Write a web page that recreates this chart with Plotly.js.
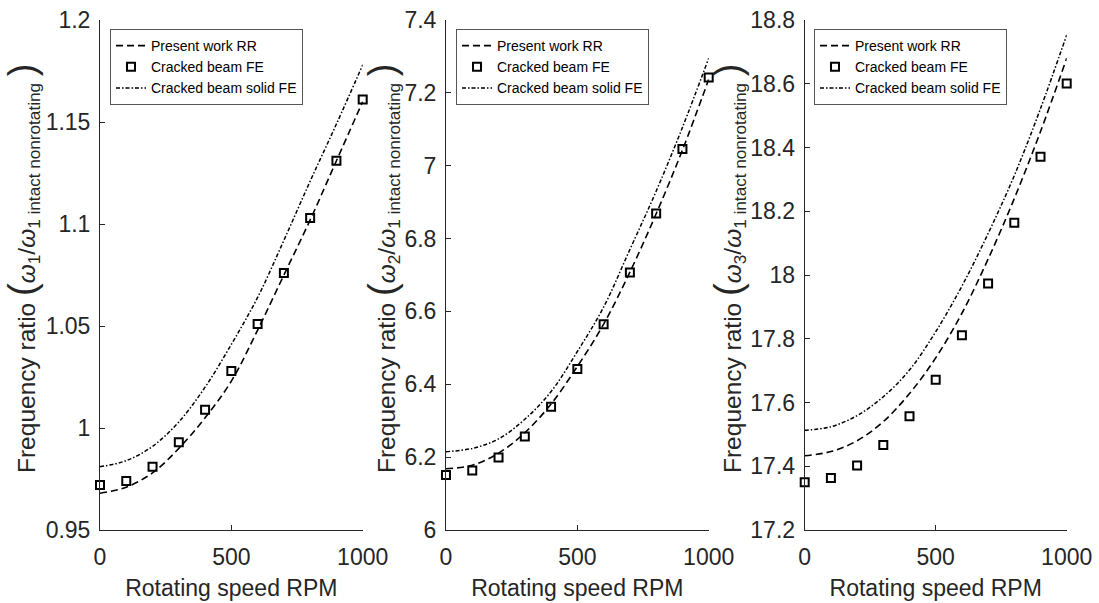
<!DOCTYPE html>
<html>
<head>
<meta charset="utf-8">
<script src="https://cdn.plot.ly/plotly-3.0.1.min.js"></script>
<style>html,body{margin:0;padding:0;background:#fff;}#chart{width:1099px;height:603px;}</style>
</head>
<body>
<div id="chart"></div>
<script>
// ---- data ----
const rpm = [0, 100, 200, 300, 400, 500, 600, 700, 800, 900, 1000];

const rr1    = [0.968, 0.971, 0.978, 0.990, 1.005, 1.023, 1.048, 1.075, 1.102, 1.131, 1.160];
const fe1    = [0.972, 0.974, 0.981, 0.993, 1.009, 1.028, 1.051, 1.076, 1.103, 1.131, 1.161];
const solid1 = [0.981, 0.984, 0.991, 1.003, 1.020, 1.041, 1.064, 1.092, 1.121, 1.149, 1.178];

const rr2    = [6.168, 6.178, 6.211, 6.267, 6.346, 6.449, 6.565, 6.708, 6.868, 7.043, 7.237];
const fe2    = [6.151, 6.163, 6.199, 6.257, 6.338, 6.442, 6.565, 6.707, 6.869, 7.046, 7.242];
const solid2 = [6.215, 6.224, 6.250, 6.304, 6.380, 6.490, 6.612, 6.770, 6.930, 7.105, 7.295];

const rr3    = [17.433, 17.446, 17.480, 17.540, 17.628, 17.740, 17.880, 18.050, 18.240, 18.450, 18.680];
const fe3    = [17.350, 17.363, 17.402, 17.467, 17.557, 17.671, 17.811, 17.973, 18.164, 18.371, 18.601];
const solid3 = [17.513, 17.524, 17.559, 17.618, 17.702, 17.822, 17.965, 18.130, 18.312, 18.522, 18.753];

const seriesNames = ['Present work RR', 'Cracked beam FE', 'Cracked beam solid FE'];

const xTickVals = [0, 500, 1000];
const xTickText = ['0', '500', '1000'];
const y1TickVals = [0.95, 1.0, 1.05, 1.1, 1.15, 1.2];
const y1TickText = ['0.95', '1', '1.05', '1.1', '1.15', '1.2'];
const y2TickVals = [6.0, 6.2, 6.4, 6.6, 6.8, 7.0, 7.2, 7.4];
const y2TickText = ['6', '6.2', '6.4', '6.6', '6.8', '7', '7.2', '7.4'];
const y3TickVals = [17.2, 17.4, 17.6, 17.8, 18.0, 18.2, 18.4, 18.6, 18.8];
const y3TickText = ['17.2', '17.4', '17.6', '17.8', '18', '18.2', '18.4', '18.6', '18.8'];

const xTitle = 'Rotating speed RPM';
const modeIdx = ['1', '2', '3'];

// ---- styling ----
const W = 1099, H = 603;
const FONT = '"Liberation Sans", Arial, Helvetica, sans-serif';
const AX = '#262626';
const panels = [
  {rr: rr1, fe: fe1, solid: solid1, yr: [0.95, 1.2], tv: y1TickVals, tt: y1TickText, x0: 100, x1: 362.7, tx: 22, lg: 110},
  {rr: rr2, fe: fe2, solid: solid2, yr: [6.0, 7.4], tv: y2TickVals, tt: y2TickText, x0: 446, x1: 708.7, tx: 382, lg: 456},
  {rr: rr3, fe: fe3, solid: solid3, yr: [17.2, 18.8], tv: y3TickVals, tt: y3TickText, x0: 804.7, x1: 1066.7, tx: 728, lg: 814}
];
const yTop = 20, yBot = 530;

const traces = [];
const layout = {
  width: W, height: H,
  margin: {l: 0, r: 0, t: 0, b: 0},
  paper_bgcolor: '#fff', plot_bgcolor: '#fff',
  font: {family: FONT, color: AX},
  showlegend: true,
  annotations: []
};

panels.forEach((p, i) => {
  const k = i + 1;
  const xa = 'x' + (k === 1 ? '' : k), ya = 'y' + (k === 1 ? '' : k);
  const lg = 'legend' + (k === 1 ? '' : k);
  traces.push({
    x: rpm, y: p.rr, xaxis: xa, yaxis: ya, legend: lg, name: seriesNames[0],
    type: 'scatter', mode: 'lines', line: {color: '#000', width: 1.6, dash: '7px,4px', shape: 'spline', smoothing: 1}
  });
  traces.push({
    x: rpm, y: p.fe, xaxis: xa, yaxis: ya, legend: lg, name: seriesNames[1], cliponaxis: false,
    type: 'scatter', mode: 'markers', marker: {symbol: 'square-open', size: 8, color: '#000', line: {width: 2, color: '#000'}}
  });
  traces.push({
    x: rpm, y: p.solid, xaxis: xa, yaxis: ya, legend: lg, name: seriesNames[2],
    type: 'scatter', mode: 'lines', line: {color: '#000', width: 1.5, dash: '4px,2px,1.5px,2px', shape: 'spline', smoothing: 1}
  });
  const xName = 'xaxis' + (k === 1 ? '' : k), yName = 'yaxis' + (k === 1 ? '' : k);
  layout[xName] = {
    domain: [p.x0 / W, p.x1 / W], anchor: 'y' + (k === 1 ? '' : k),
    range: [0, 1000], tickvals: xTickVals, ticktext: xTickText,
    ticks: 'inside', ticklen: 5, tickwidth: 1, tickcolor: AX,
    showline: true, linecolor: AX, linewidth: 1, showgrid: false, zeroline: false,
    tickfont: {family: FONT, size: 23, color: AX}, ticklabelstandoff: 6,
    title: {text: xTitle, font: {family: FONT, size: 23, color: AX}, standoff: 11},
    fixedrange: true
  };
  layout[yName] = {
    domain: [1 - yBot / H, 1 - yTop / H], anchor: 'x' + (k === 1 ? '' : k),
    range: p.yr, tickvals: p.tv, ticktext: p.tt,
    ticks: 'inside', ticklen: 5, tickwidth: 1, tickcolor: AX,
    showline: true, linecolor: AX, linewidth: 1, showgrid: false, zeroline: false,
    tickfont: {family: FONT, size: 23, color: AX}, ticklabelstandoff: 4,
    fixedrange: true
  };
  layout[lg] = {
    x: p.lg / W, y: 1 - 29 / H, xanchor: 'left', yanchor: 'top',
    bgcolor: '#fff', bordercolor: '#555', borderwidth: 1,
    font: {family: FONT, size: 14, color: '#000'},
    itemwidth: 30, tracegroupgap: 0, traceorder: 'normal'
  };
  layout.annotations.push({
    xref: 'paper', yref: 'paper', x: p.tx / W, y: 1 - 268 / H,
    xanchor: 'center', yanchor: 'middle', textangle: -90, showarrow: false,
    font: {family: FONT, size: 24.5, color: AX},
    text: 'Frequency ratio <span style="font-size:38px">(</span><i>ω</i><sub>' + modeIdx[i] + '</sub>/<i>ω</i><sub>1 intact nonrotating</sub> <span style="font-size:38px">)</span>'
  });
});

Plotly.newPlot('chart', traces, layout, {staticPlot: true, displayModeBar: false});
</script>
</body>
</html>
